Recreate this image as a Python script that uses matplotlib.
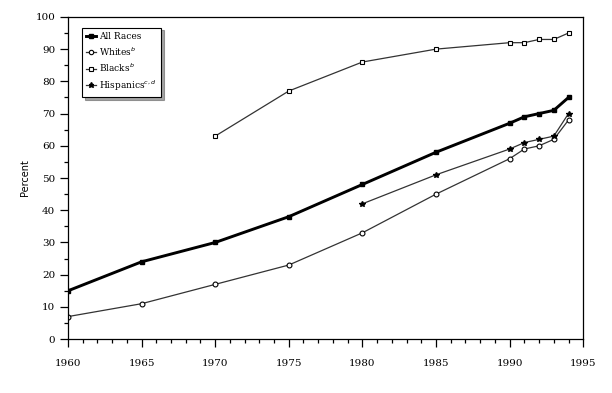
import matplotlib
matplotlib.use("Agg")
import matplotlib.pyplot as plt
from matplotlib.ticker import MultipleLocator

# data
years_all = [1960, 1965, 1970, 1975, 1980, 1985, 1990, 1991, 1992, 1993, 1994]
all_races = [15, 24, 30, 38, 48, 58, 67, 69, 70, 71, 75]

years_white = [1960, 1965, 1970, 1975, 1980, 1985, 1990, 1991, 1992, 1993, 1994]
whites = [7, 11, 17, 23, 33, 45, 56, 59, 60, 62, 68]

years_black = [1970, 1975, 1980, 1985, 1990, 1991, 1992, 1993, 1994]
blacks = [63, 77, 86, 90, 92, 92, 93, 93, 95]

years_hisp = [1980, 1985, 1990, 1991, 1992, 1993, 1994]
hispanics = [42, 51, 59, 61, 62, 63, 70]

fig = plt.figure(figsize=(6.12, 3.93), dpi=100)
ax = fig.add_axes([0.111, 0.137, 0.842, 0.82])

ax.plot(years_all, all_races, color="black", lw=2.1, marker="s", ms=3.2,
        mfc="black", mec="black", label="All Races")
ax.plot(years_white, whites, color="#333333", lw=0.9, marker="o", ms=3.5,
        mfc="white", mec="black", mew=0.8, label="Whites$^{b}$")
ax.plot(years_black, blacks, color="#333333", lw=0.9, marker="s", ms=3.5,
        mfc="white", mec="black", mew=0.8, label="Blacks$^{b}$")
ax.plot(years_hisp, hispanics, color="#333333", lw=0.9, marker="*", ms=4.2,
        mfc="black", mec="black", label="Hispanics$^{c,d}$")

ax.set_xlim(1960, 1995)
ax.set_ylim(0, 100)
ax.xaxis.set_major_locator(MultipleLocator(5))
ax.xaxis.set_minor_locator(MultipleLocator(1))
ax.yaxis.set_major_locator(MultipleLocator(10))
ax.yaxis.set_minor_locator(MultipleLocator(5))
ax.tick_params(which="major", direction="out", length=6, width=0.9,
               labelsize=7.5, pad=3)
ax.tick_params(which="minor", direction="out", length=3, width=0.9)
ax.tick_params(axis="x", pad=8)
for lab in ax.get_xticklabels() + ax.get_yticklabels():
    lab.set_family("DejaVu Serif")
for s in ax.spines.values():
    s.set_linewidth(0.9)

ax.set_ylabel("Percent", fontsize=7, family="DejaVu Sans", labelpad=4)

leg = ax.legend(loc="upper left", bbox_to_anchor=(0.022, 0.975),
                prop={"family": "DejaVu Serif", "size": 6.5},
                fancybox=False, shadow=True, edgecolor="black",
                handlelength=1.0, handletextpad=0.4, labelspacing=0.45,
                borderpad=0.5, borderaxespad=0.3, markerscale=0.9)
leg.get_frame().set_linewidth(0.8)

fig.savefig("out.png", dpi=100)
